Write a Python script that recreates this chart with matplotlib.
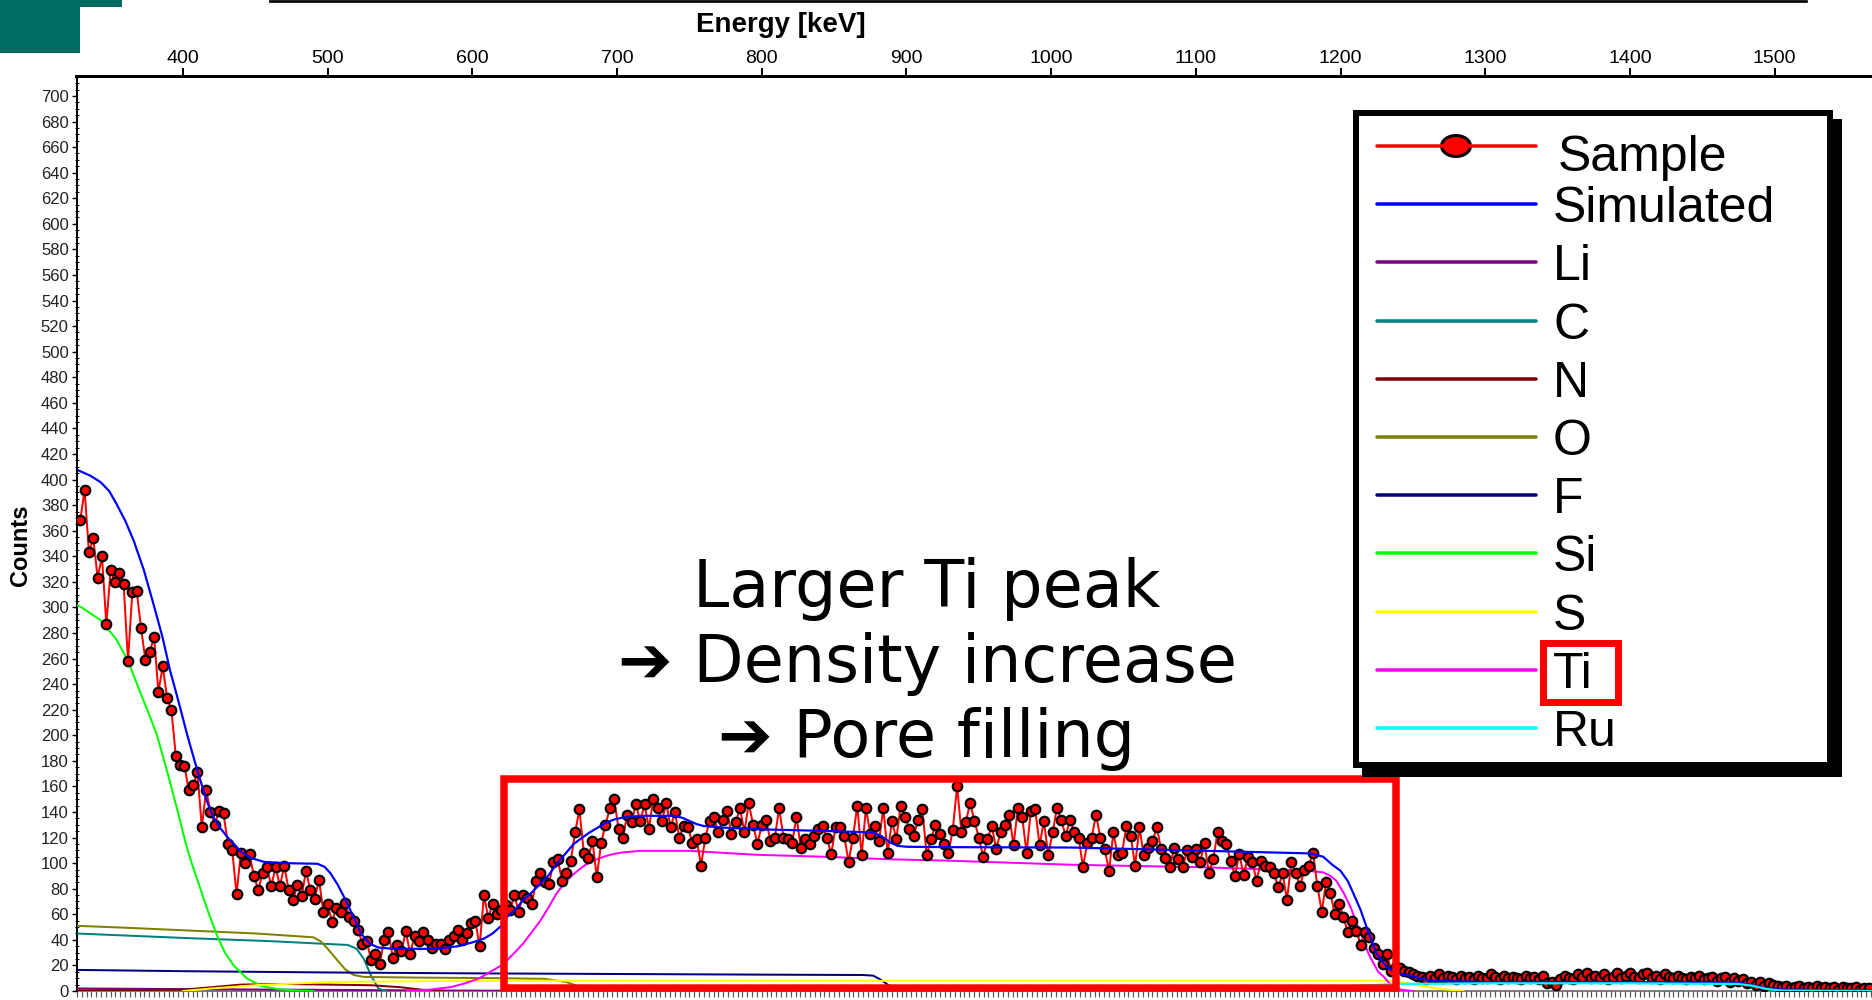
"""RBS spectrum slide: sample vs. simulated counts with elemental contributions."""

import matplotlib
import numpy as np

matplotlib.use("Agg")
import matplotlib.pyplot as plt
from matplotlib.patches import Ellipse, Rectangle
from matplotlib.ticker import MultipleLocator

plt.rcParams["font.family"] = ["Liberation Sans", "DejaVu Sans"]

W, H = 1872, 1000  # output size in pixels (dpi 100)

# ---------------------------------------------------------------- data
E_START = 329.0  # keV, first channel
E_STEP = 3.0     # keV per channel

sample_low = [  # 329 .. 617 keV
    368, 392, 343, 354, 323, 340, 287, 329, 320, 327,
    318, 258, 312, 313, 284, 259, 265, 277, 234, 254,
    229, 220, 184, 177, 176, 157, 161, 171, 128, 157,
    140, 130, 141, 139, 115, 110, 76, 108, 100, 107,
    90, 79, 92, 97, 82, 97, 82, 98, 79, 71,
    83, 74, 94, 79, 72, 87, 62, 68, 54, 65,
    62, 69, 58, 55, 48, 37, 39, 24, 29, 21,
    40, 46, 26, 36, 31, 47, 29, 43, 39, 46,
    40, 34, 37, 37, 33, 40, 43, 48, 40, 45,
    53, 55, 35, 75, 57, 68, 60,
]
sample_ti = [  # 620 .. 929 keV
    63, 67, 63, 75, 62, 75, 73, 68, 86, 92,
    85, 84, 101, 103, 86, 92, 102, 124, 142, 108,
    104, 117, 89, 116, 130, 143, 150, 127, 120, 138,
    132, 146, 133, 146, 127, 150, 143, 133, 147, 128,
    140, 120, 129, 128, 116, 119, 98, 120, 133, 136,
    124, 134, 141, 123, 132, 143, 124, 147, 130, 115,
    130, 134, 117, 120, 143, 120, 119, 116, 136, 112,
    119, 115, 121, 127, 129, 120, 107, 128, 128, 121,
    101, 120, 145, 106, 143, 123, 129, 117, 143, 108,
    133, 119, 145, 136, 127, 121, 134, 142, 106, 119,
    130, 123, 115, 108,
]
sample_high = [  # 932 .. 1244 keV
    126, 160, 124, 132, 147, 133, 120, 105, 119, 129,
    111, 124, 130, 138, 114, 143, 136, 108, 141, 142,
    114, 133, 106, 124, 143, 134, 121, 134, 124, 120,
    97, 116, 120, 138, 120, 111, 94, 124, 106, 108,
    129, 121, 98, 128, 106, 112, 117, 128, 111, 104,
    97, 112, 103, 97, 110, 105, 111, 101, 116, 92,
    103, 124, 117, 115, 102, 90, 107, 91, 105, 101,
    86, 102, 98, 97, 92, 81, 92, 71, 101, 92,
    82, 95, 98, 108, 82, 62, 85, 77, 60, 68,
    58, 46, 55, 47, 36, 46, 42, 34, 29, 21,
    29, 16, 19, 18, 16,
]
sample_tail = [  # 1247 .. 1565 keV
    15, 13, 12, 11, 9, 12, 10, 13, 10, 12,
    11, 9, 12, 10, 11, 9, 12, 10, 10, 13,
    11, 9, 12, 10, 11, 10, 9, 12, 10, 11,
    9, 12, 6, 7, 5, 9, 12, 10, 9, 13,
    11, 14, 10, 12, 10, 13, 9, 11, 14, 10,
    12, 14, 11, 10, 13, 14, 10, 12, 9, 13,
    11, 10, 12, 10, 9, 11, 10, 12, 9, 10,
    11, 8, 10, 11, 7, 10, 8, 9, 6, 7,
    5, 7, 4, 6, 5, 4, 3, 4, 2, 3,
    4, 2, 3, 2, 4, 2, 3, 2, 3, 1,
    3, 2, 2, 3, 1, 2, 2,
]

sim_e = [328, 336, 343, 349, 354, 360, 366, 373, 380, 386,
         391, 397, 403, 408, 413, 417, 421, 426, 431, 436,
         440, 447, 456, 470, 493, 498, 502, 507, 512, 517,
         523, 529, 535, 545, 560, 575, 590, 600, 608, 614,
         620, 624, 630, 635, 641, 647, 653, 658, 664, 670,
         676, 681, 687, 693, 699, 704, 716, 739, 745, 750,
         755, 760, 773, 797, 843, 877, 883, 889, 894, 900,
         930, 1015, 1108, 1179, 1188, 1194, 1200, 1205, 1209, 1214,
         1218, 1222, 1225, 1229, 1232, 1237, 1241, 1248, 1255, 1262,
         1300, 1400, 1475, 1485, 1495, 1505, 1567]
sim_c = [407, 403, 398, 391, 381, 368, 352, 329, 301, 276,
         251, 226, 200, 180, 161, 147, 136, 127, 120, 114,
         109, 104, 101, 100, 99.5, 97, 92, 83, 72, 60,
         45, 37, 34, 33, 33, 33, 35, 38, 41, 45,
         51, 58, 64, 71, 77, 84, 91, 99, 107, 115,
         120, 124, 128, 132, 134.5, 135.6, 137, 137, 135.5, 133,
         130.5, 129, 127.8, 126.5, 125.2, 124, 121, 116, 113.5, 112.8,
         112.5, 112.2, 109.6, 107.6, 105, 99, 94, 86, 76, 63,
         50, 38, 29, 23, 18.7, 15.5, 13.5, 12, 10, 8,
         7, 7, 6.5, 4.5, 2, 1, 0.5]

li_e = [326, 400, 480, 560, 620, 700]
li_c = [2, 1.5, 1, 0.5, 0.2, 0]

c_e = [326, 400, 460, 514, 520, 525, 530, 535, 540]
c_c = [45, 41.5, 39, 36, 33, 25, 12, 2, 0]

n_e = [326, 400, 420, 440, 470, 500, 530, 550, 565, 580]
n_c = [0.5, 1, 3, 5, 5.5, 5, 4.5, 3, 1, 0]

o_e = [326, 360, 400, 450, 490, 495, 500, 506, 512, 518,
       525, 560, 620, 650, 665, 675, 685]
o_c = [51, 49.5, 47.5, 45, 42, 39, 33, 25, 17, 12.5,
       11, 10.5, 10, 9.5, 7, 3, 0]

f_e = [326, 400, 500, 600, 700, 800, 870, 877, 882, 887, 892, 900]
f_c = [16.5, 15.5, 14.5, 13.8, 13.3, 12.8, 12.5, 12, 9, 5, 2, 0.3]

si_e = [326, 330, 343, 354, 362, 370, 377, 382, 389, 396,
        402, 406, 412, 418, 424, 429, 435, 444, 454, 465, 477, 490]
si_c = [302, 300, 290, 275, 258, 235, 215, 200, 172, 142,
        115, 100, 80, 60, 42, 30, 20, 10, 4, 1.5, 0.5, 0]

s_e = [400, 420, 450, 480, 500, 550, 620, 900, 1100, 1230,
       1240, 1255, 1270, 1285]
s_c = [0, 2, 4.5, 6, 7, 7.5, 8, 8, 8, 8, 7.5, 4, 1.5, 0]

ti_e = [555, 570, 585, 595, 605, 612, 620, 624, 630, 635,
        641, 647, 653, 658, 664, 670, 676, 681, 687, 693,
        699, 704, 716, 750, 797, 843, 889, 930, 1015, 1108,
        1177, 1188, 1193, 1197, 1202, 1207, 1211, 1216, 1219, 1223,
        1226, 1230, 1233, 1237, 1242, 1250]
ti_c = [0, 1, 3, 6, 10, 14.8, 20, 24, 31, 37,
        46, 55, 66, 76, 85, 91.5, 97, 100.6, 103.5, 105.8,
        107.5, 108.4, 109.6, 109.6, 106.5, 105, 103, 101.9, 98.7, 96.7,
        94, 92.8, 90, 86.3, 77, 65.5, 53, 39.5, 30, 21.3,
        15, 11, 7, 3, 1, 0]

ru_e = [900, 1000, 1100, 1200, 1240, 1300, 1400, 1475, 1485, 1495, 1505, 1567]
ru_c = [0.5, 1, 2, 3.5, 5.5, 6, 6, 5.5, 4, 1.5, 0.3, 0]

legend_labels = ["Sample", "Simulated", "Li", "C", "N", "O", "F",
                 "Si", "S", "Ti", "Ru"]
annotation = ["Larger Ti peak", "\u2794 Density increase", "\u2794 Pore filling"]

# ---------------------------------------------------------------- styles
RED, BLUE = "#ff0000", "#0000ff"
COLORS = {"Li": "#800080", "C": "#008080", "N": "#800000", "O": "#808000",
          "F": "#000080", "Si": "#00ff00", "S": "#ffff00", "Ti": "#ff00ff",
          "Ru": "#00ffff"}
TEAL_SLIDE = "#006b63"
PT = 0.72  # points per pixel at dpi 100


def main() -> None:
    fig = plt.figure(figsize=(W / 100, H / 100), dpi=100)

    # plot area in pixels: left 76.5, top 76, bottom 991, runs off the right edge
    left, top, bottom = 76.5, 76.0, 991.0
    ax = fig.add_axes([left / W, 1 - bottom / H, (W - left) / W, (bottom - top) / H])

    counts = np.array(sample_low + sample_ti + sample_high + sample_tail, dtype=float)
    energy = E_START + E_STEP * np.arange(len(counts))

    comps = [("Li", li_e, li_c), ("C", c_e, c_c), ("N", n_e, n_c), ("O", o_e, o_c),
             ("F", f_e, f_c), ("Si", si_e, si_c), ("S", s_e, s_c), ("Ti", ti_e, ti_c)]
    for name, e, c in comps:
        ax.plot(e, c, color=COLORS[name], lw=2 * PT, zorder=3)

    ax.plot(energy, counts, color=RED, lw=2 * PT, marker="o", ms=9.5 * PT,
            mfc=RED, mec="black", mew=2.2 * PT, zorder=4)
    ax.plot(sim_e, sim_c, color=BLUE, lw=2.2 * PT, zorder=5)
    ax.plot(ru_e, ru_c, color=COLORS["Ru"], lw=2.2 * PT, zorder=6)

    ax.set_xlim(326.4, 1567.3)
    ax.set_ylim(0, 715.6)

    # x axis: labels on top, dense minor ticks along the bottom
    ax.xaxis.set_major_locator(MultipleLocator(100))
    ax.tick_params(axis="x", which="major", top=True, bottom=False,
                   labeltop=True, labelbottom=False, direction="out",
                   length=8 * PT, width=2 * PT, labelsize=14, pad=1)
    bot = ax.secondary_xaxis("bottom")
    bot.xaxis.set_major_locator(MultipleLocator(10 / 3))
    bot.tick_params(labelbottom=False, length=6 * PT, width=1.2 * PT,
                    color="#555555", direction="out")
    bot.spines["bottom"].set_color("#555555")
    bot.spines["bottom"].set_linewidth(1.5 * PT)

    ax.yaxis.set_major_locator(MultipleLocator(20))
    ax.yaxis.set_minor_locator(MultipleLocator(5))
    ax.tick_params(axis="y", which="major", direction="out", length=5 * PT,
                   width=1.4 * PT, labelsize=12, pad=2, labelcolor="#222222")
    ax.tick_params(axis="y", which="minor", direction="inout", length=4 * PT,
                   width=1.0 * PT)

    ax.spines["right"].set_visible(False)
    ax.spines["bottom"].set_visible(False)
    ax.spines["top"].set_linewidth(3 * PT)
    ax.spines["left"].set_linewidth(2 * PT)

    # overlay in pixel coordinates for the slide decorations
    ov = fig.add_axes([0, 0, 1, 1])
    ov.set_xlim(0, W)
    ov.set_ylim(H, 0)
    ov.axis("off")
    ov.set_zorder(5)

    ov.add_patch(Rectangle((0, 0), 122, 7, color=TEAL_SLIDE, lw=0))
    ov.add_patch(Rectangle((0, 0), 80, 53, color=TEAL_SLIDE, lw=0))
    ov.plot([270, 1806], [1.3, 1.3], color="black", lw=2.7 * PT)

    ov.text(781, 32, "Energy [keV]", ha="center", va="baseline",
            fontsize=20, fontweight="bold")
    ov.text(21, 545, "Counts", rotation=90, ha="center", va="center",
            fontsize=17, fontweight="bold")

    # highlight box around the Ti plateau
    ov.add_patch(Rectangle((503.7, 779), 891.8, 209, fill=False,
                           ec=RED, lw=7.5 * PT))

    for i, line in enumerate(annotation):
        ov.text(927, 607 + 75 * i, line, ha="center", va="baseline",
                fontsize=47, family=["DejaVu Sans"])

    # legend box with drop shadow
    ov.add_patch(Rectangle((1362, 119), 480, 658, color="black", lw=0))
    ov.add_patch(Rectangle((1356, 113), 474, 652, fc="white", ec="black",
                           lw=6 * PT))
    legend_colors = [RED, BLUE] + [COLORS[k] for k in legend_labels[2:]]
    for i, (label, col) in enumerate(zip(legend_labels, legend_colors)):
        y = 146 + 58.2 * i
        ov.plot([1377, 1536], [y, y], color=col, lw=3.5 * PT,
                solid_capstyle="round")
        tx = 1558 if i == 0 else 1553
        ty = 171 if i == 0 else y + 18
        ov.text(tx, ty, label, ha="left", va="baseline", fontsize=36)
    ov.add_patch(Ellipse((1456, 146), 29, 21, fc=RED, ec="black", lw=3 * PT))
    ov.add_patch(Rectangle((1542.5, 642.5), 75, 59, fill=False, ec=RED,
                           lw=7 * PT))

    fig.savefig("out.png", dpi=100, facecolor="white")


if __name__ == "__main__":
    main()
